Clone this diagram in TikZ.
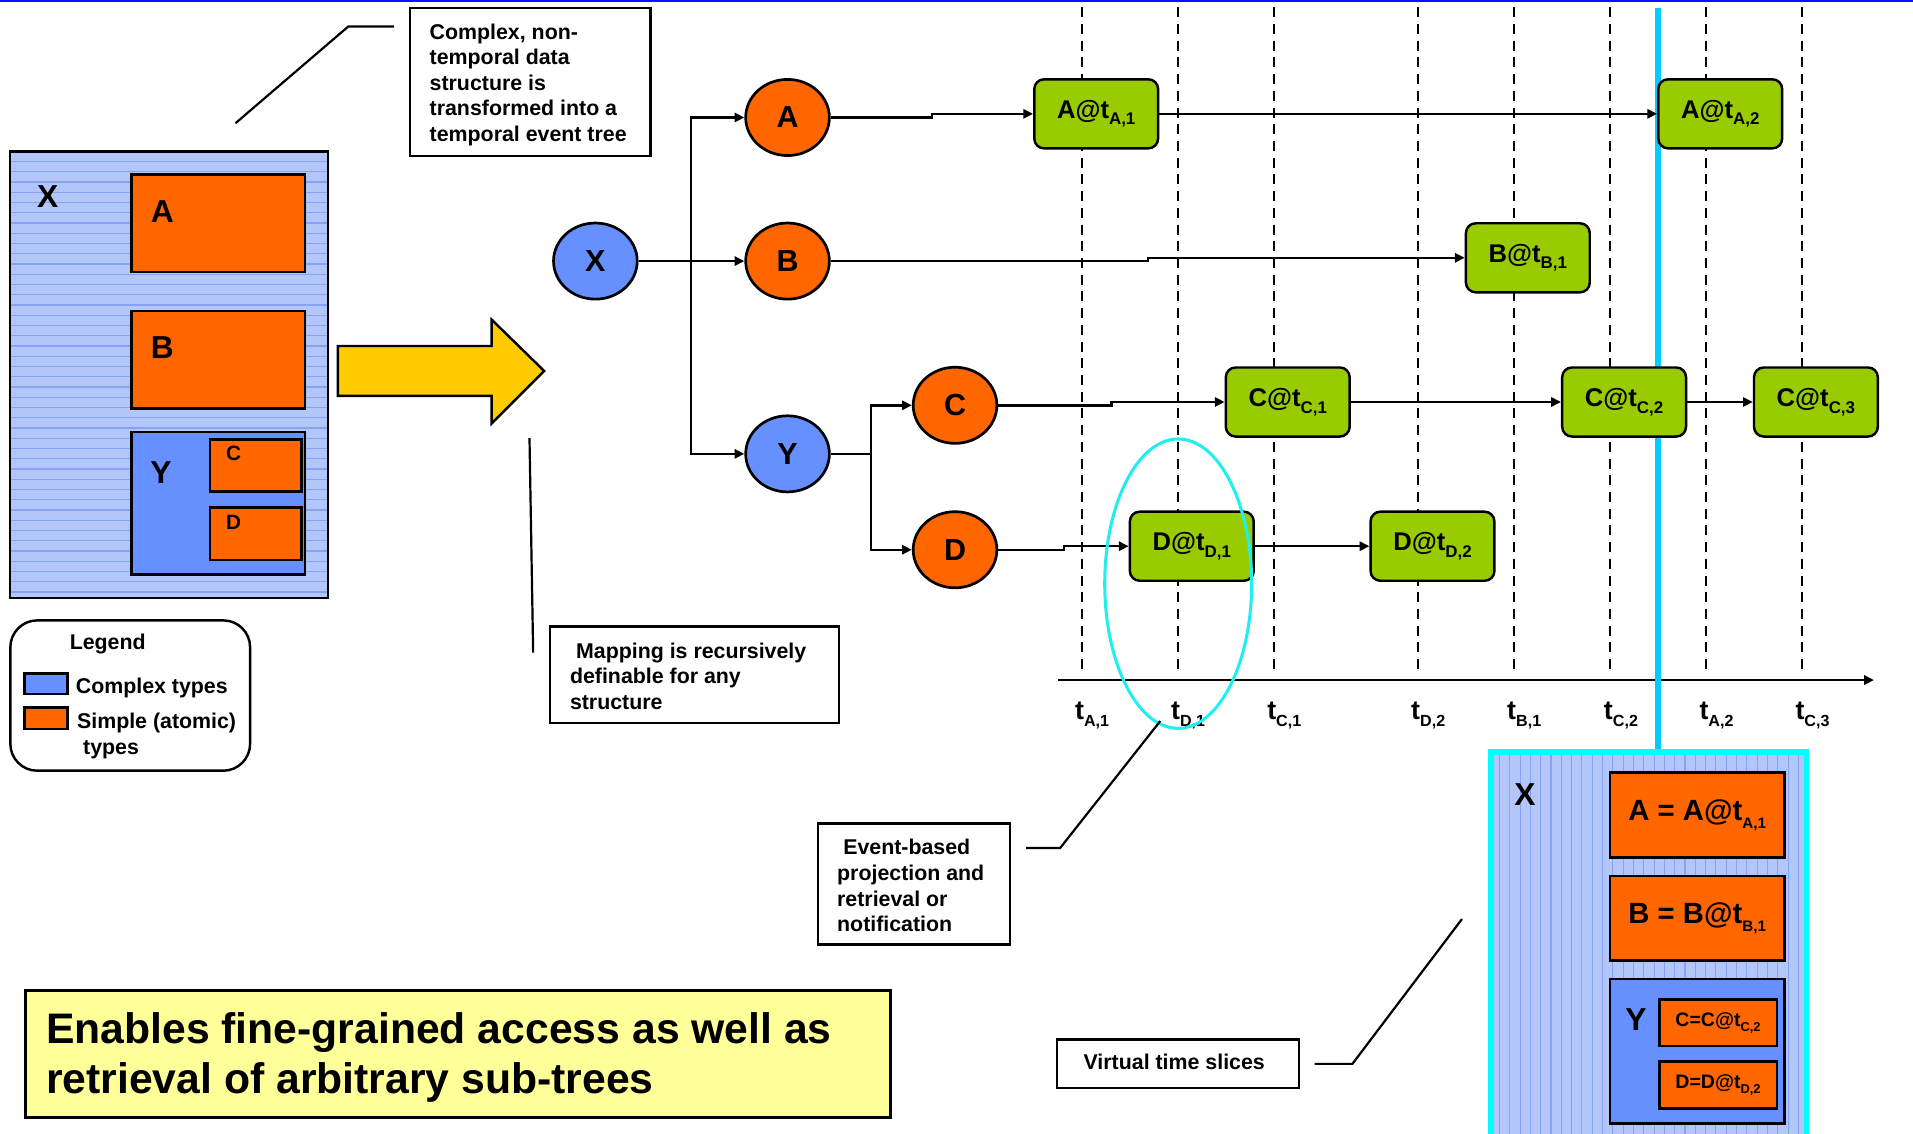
\documentclass[tikz,border=0pt]{standalone}
\usepackage{fontspec}
\setmainfont{Liberation Sans}
\usetikzlibrary{arrows.meta,shapes.geometric}

\definecolor{orng}{HTML}{FF6600}
\definecolor{cplx}{HTML}{6690FF}
\definecolor{panel}{HTML}{B3C6FA}
\definecolor{stripe}{HTML}{86A3F2}
\definecolor{grn}{HTML}{99CC00}
\definecolor{arrowyel}{HTML}{FFCC00}
\definecolor{noteyel}{HTML}{FFFF99}
\definecolor{slice}{HTML}{00CCFF}
\definecolor{ring}{HTML}{22EEEE}
\definecolor{rim}{HTML}{00FFFF}
\definecolor{topline}{HTML}{1010FF}

% lowered, smaller index text (e.g. t_{A,1})
\makeatletter
\newcommand\lowidx[2][0.62]{\raisebox{-0.26em}{\fontsize{\fpeval{#1*\f@size}}{\fpeval{#1*\f@size}}\selectfont #2}}
\makeatother
\newcommand\fsz[2]{\fontsize{#1}{#2}\selectfont\bfseries}

\tikzset{
  treenode/.style={ellipse, draw, line width=2.2pt, minimum width=68.6pt,
    minimum height=62.4pt, inner sep=0pt, font=\fsz{25}{30}},
  cplxnode/.style={treenode, fill=cplx},
  atomnode/.style={treenode, fill=orng},
  eventbox/.style={rectangle, rounded corners=8pt, draw, line width=2pt,
    fill=grn, minimum width=101.5pt, minimum height=56.6pt, inner sep=0pt,
    font=\fsz{21}{24}},
  panelfill/.style={rectangle, fill=panel, inner sep=0pt, outer sep=0pt},
  atombox/.style={rectangle, draw, line width=2.2pt, fill=orng, inner sep=0pt},
  cplxbox/.style={rectangle, draw, line width=2.2pt, fill=cplx, inner sep=0pt},
  notebox/.style={rectangle, draw, line width=2pt, fill=white, inner sep=0pt},
  notetext/.style={anchor=north west, inner sep=0pt, align=left, font=\fsz{17.5}{21}},
  linetext/.style={anchor=base west, inner sep=0pt, font=\fsz{17.5}{21}},
  biglabel/.style={inner sep=0pt, font=\fsz{26}{30}},
  link/.style={line width=2pt, -{Triangle[length=8pt,width=7.5pt]}},
  plainlink/.style={line width=2pt},
  callout/.style={line width=1.8pt},
  timeslot/.style={line width=1.6pt, dash pattern=on 8.2pt off 5.5pt},
  timelabel/.style={anchor=base west, inner sep=0pt, font=\fsz{22}{22}},
}

\begin{document}
\begin{tikzpicture}[x=1pt,y=-1pt]
\useasboundingbox (0,0) rectangle (1568,929);
\clip (0,0) rectangle (1568,929);

% rule along the top edge
\draw[topline, line width=1.5pt] (0,0.75) -- (1568,0.75);

% ---------- time slots, slice marker and time axis ----------
\foreach \x [count=\i] in {886.5,965.2,1044,1162,1240.7,1320,1398.3,1477}
  \draw[timeslot] (\x,6) coordinate (st\i) -- (\x,551) coordinate (sb\i);
\coordinate (slicetop) at (1359,6.5);
\coordinate (axl) at (867,557.4);
\coordinate (axr) at (1536,557.4);
\draw[link] (axl) -- (axr);

% ---------- non-temporal structure (left) ----------
\node[panelfill, minimum width=261pt, minimum height=366pt] (lpanel) at (138.5,307) {};
\begin{scope}
  \clip (lpanel.south west) rectangle (lpanel.north east);
  \foreach \k in {1,...,44}
    \draw[stripe, line width=0.9pt] (8,{124+8.4*\k}) -- (269,{124+8.4*\k});
\end{scope}
\draw[line width=2pt] (lpanel.south west) rectangle (lpanel.north east);
\node[biglabel] (lx) at (39,161.5) {X};
\node[atombox, minimum width=142pt, minimum height=80pt] (pa) at (179,183) {};
\node[atombox, minimum width=142pt, minimum height=80pt] (pb) at (179,295) {};
\node[cplxbox, minimum width=142pt, minimum height=117pt] (py) at (179,412.5) {};
\node[atombox, minimum width=75pt, minimum height=43pt] (pc) at (209.5,381.5) {};
\node[atombox, minimum width=75pt, minimum height=43pt] (pd) at (209.5,437.5) {};
\node[biglabel] (la) at (133,173.7) {A};
\node[biglabel] (lb) at (133,284.8) {B};
\node[biglabel] (ly) at (132,387) {Y};
\node[inner sep=0pt, font=\fsz{17}{20}] (lc) at (191.5,372) {C};
\node[inner sep=0pt, font=\fsz{17}{20}] (ld) at (191.5,428) {D};

% transformation arrow
\draw[line width=2pt, fill=arrowyel] (277,283.6) -- (403,283.6) -- (403,262)
  -- (446,304) -- (403,347) -- (403,324.5) -- (277,324.5) -- cycle;

% ---------- legend ----------
\node[notebox, rounded corners=22pt, minimum width=196.5pt, minimum height=123.2pt] (legend) at (106.75,570.1) {};
\node[cplxbox, line width=2pt, minimum width=35.5pt, minimum height=17pt] (swc) at (37.75,560.5) {};
\node[atombox, line width=2pt, minimum width=35.5pt, minimum height=17.6pt] (swa) at (37.75,588.8) {};
\node[linetext] (lgt) at (57,532.2) {Legend};
\node[linetext] (lgc) at (62,568.5) {Complex types};
\node[linetext] (lga) at (63,597.5) {Simple (atomic)};
\node[linetext] (lga2) at (68,618.7) {types};

% ---------- temporal event tree ----------
\node[cplxnode] (X) at (488,214) {X};
\node[atomnode] (A) at (645.5,96.3) {A};
\node[atomnode] (B) at (645.5,214) {B};
\node[cplxnode] (Y) at (645.5,372) {Y};
\node[atomnode] (C) at (782.8,332.2) {C};
\node[atomnode] (D) at (782.8,450.6) {D};

\coordinate (xfork) at (566.4,214);
\coordinate (yfork) at (714,372);

% slice marker runs behind the event boxes
\draw[slice, line width=4.8pt] (slicetop) -- (1359,616.5);

\node[eventbox] (at1) at (898.5,93.3) {A@t\lowidx[0.66]{A,1}};
\node[eventbox] (at2) at (1410,93.3) {A@t\lowidx[0.66]{A,2}};
\node[eventbox] (bt1) at (1252.3,211.3) {B@t\lowidx[0.66]{B,1}};
\node[eventbox] (ct1) at (1055.5,329.5) {C@t\lowidx[0.66]{C,1}};
\node[eventbox] (ct2) at (1331.2,329.5) {C@t\lowidx[0.66]{C,2}};
\node[eventbox] (ct3) at (1488.4,329.5) {C@t\lowidx[0.66]{C,3}};
\node[eventbox] (dt1) at (976.85,447.7) {D@t\lowidx[0.66]{D,1}};
\node[eventbox] (dt2) at (1174.15,447.7) {D@t\lowidx[0.66]{D,2}};

\draw[link] (X.east) -- (B.west);
\draw[link] (xfork) |- (A.west);
\draw[link] (xfork) |- (Y.west);
\draw[plainlink] (Y.east) -- (yfork);
\draw[link] (yfork) |- (C.west);
\draw[link] (yfork) |- (D.west);

\draw[link] (A.east) -- ++(83,0) |- (at1.west);
\draw[link] (B.east) -- ++(260,0) |- (bt1.west);
\draw[link] (C.east) -- ++(93,0) |- (ct1.west);
\draw[link] (D.east) -- ++(54,0) |- (dt1.west);
\draw[link] (at1) -- (at2);
\draw[link] (ct1) -- (ct2);
\draw[link] (ct2) -- (ct3);
\draw[link] (dt1) -- (dt2);

% time axis labels
\foreach \x/\s [count=\i] in {886.5/{A,1},965.2/{D,1},1044/{C,1},1162/{D,2},1240.7/{B,1},1320/{C,2},1398.3/{A,2},1477/{C,3}}
  \node[timelabel] (tl\i) at (\x-5.5,589.5) {t\lowidx[0.6]{\s}};

% event-based projection highlight
\node[ellipse, draw=ring, line width=2.5pt, minimum width=120.4pt, minimum height=237.2pt, inner sep=0pt] (proj) at (965.7,478.4) {};

% ---------- virtual time slice (right) ----------
\node[panelfill, minimum width=258.5pt, minimum height=323.5pt] (rpanel) at (1351.35,778.25) {};
\begin{scope}
  \clip (rpanel.south west) rectangle (rpanel.north east);
  \foreach \k in {0,...,30}
    \draw[stripe, line width=0.9pt] ({1229+8.45*\k},616) -- ({1229+8.45*\k},940);
\end{scope}
\draw[rim, line width=4.7pt] (rpanel.south west) rectangle (rpanel.north east);
\node[biglabel] (rx) at (1250,651) {X};
\node[atombox, minimum width=143.2pt, minimum height=70pt, font=\fsz{24}{28}] (ra) at (1391.1,668) {A = A@t\lowidx[0.52]{A,1}};
\node[atombox, minimum width=143.2pt, minimum height=69.4pt, font=\fsz{24}{28}] (rb) at (1391.1,752.7) {B = B@t\lowidx[0.52]{B,1}};
\node[cplxbox, minimum width=143.2pt, minimum height=118.2pt] (ry) at (1391.1,861.6) {};
\node[biglabel] (ryl) at (1341,836) {Y};
\node[atombox, minimum width=96.4pt, minimum height=38.4pt, font=\fsz{16}{18}] (rc) at (1408.2,838.2) {C=C@t\lowidx[0.66]{C,2}};
\node[atombox, minimum width=96.4pt, minimum height=38.3pt, font=\fsz{16}{18}] (rd) at (1408.2,889.4) {D=D@t\lowidx[0.66]{D,2}};

% ---------- notes and their callouts ----------
\node[notebox, minimum width=197pt, minimum height=121.5pt] (n1) at (434.5,67.25) {};
\node[notetext] (n1t) at (352,19.1) {Complex, non-\\temporal data\\structure is\\transformed into a\\temporal event tree};
\coordinate (c1a) at (193,101);
\coordinate (c1b) at (285.5,21.7);
\coordinate (c1c) at (323,21.7);
\draw[callout] (c1a) -- (c1b) -- (c1c);

\node[notebox, minimum width=236.5pt, minimum height=79pt] (n2) at (569.25,553) {};
\node[notetext] (n2t) at (467,526.7) {\hspace*{5pt}Mapping is recursively\\definable for any\\structure};
\coordinate (c2a) at (434,359);
\coordinate (c2b) at (437,535);
\draw[callout] (c2a) -- (c2b);

\node[notebox, minimum width=157.5pt, minimum height=99pt] (n3) at (749.25,724.5) {};
\node[notetext] (n3t) at (686,687.8) {\hspace*{5pt}Event-based\\projection and\\retrieval or\\notification};
\coordinate (c3a) at (841,695);
\coordinate (c3b) at (869,695);
\coordinate (c3c) at (951,591);
\draw[callout] (c3a) -- (c3b) -- (c3c);

\node[notebox, minimum width=198.4pt, minimum height=40pt] (n4) at (965.6,872) {};
\node[linetext] (n4t) at (888,877) {Virtual time slices};
\coordinate (c4a) at (1077.5,872);
\coordinate (c4b) at (1108.5,872);
\coordinate (c4c) at (1198.3,753.3);
\draw[callout] (c4a) -- (c4b) -- (c4c);

% summary banner
\node[notebox, fill=noteyel, minimum width=709pt, minimum height=104pt] (summary) at (375.5,864) {};
\node[notetext, font=\fsz{35}{41.2}] (summaryt) at (37.6,829.8) {Enables fine-grained access as well as\\retrieval of arbitrary sub-trees};
\end{tikzpicture}
\end{document}
